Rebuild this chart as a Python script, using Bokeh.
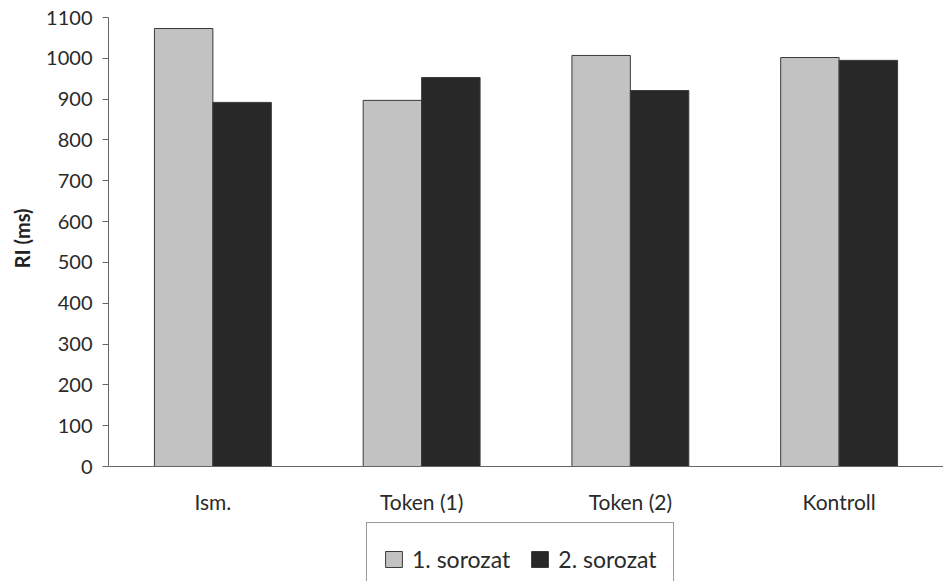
from bokeh.plotting import figure
from bokeh.models import FactorRange, Range1d, FixedTicker, Legend, LegendItem, ColumnDataSource, Title
from bokeh.transform import dodge
from bokeh.embed import file_html
from bokeh.resources import INLINE

# Reaction times (ms) per condition for the two series
categories = ["Ism.", "Token (1)", "Token (2)", "Kontroll"]
series_1 = [1073, 897, 1007, 1002]
series_2 = [892, 953, 921, 995]
series_names = ["1. sorozat", "2. sorozat"]
y_ticks = list(range(0, 1101, 100))

FONT = "Lato"
LIGHT = "#c2c2c2"
DARK = "#282828"
EDGE = "#3a3a3a"

source = ColumnDataSource(data=dict(cat=categories, s1=series_1, s2=series_2))

# The frame runs to the bottom edge so the legend can sit under the baseline;
# the value range below zero is just room for category labels and legend.
p = figure(
    width=943, height=581,
    x_range=FactorRange(*categories, range_padding=0),
    y_range=Range1d(-281.7, 1100),
    output_backend="svg", toolbar_location=None,
    min_border_left=0, min_border_right=0,
    min_border_top=17, min_border_bottom=0,
)
p.outline_line_color = None
p.xgrid.grid_line_color = None
p.ygrid.grid_line_color = None
p.background_fill_color = "white"
p.border_fill_color = "white"

bar_w = 0.28
r1 = p.vbar(x=dodge("cat", -bar_w / 2, range=p.x_range), top="s1", width=bar_w,
            source=source, fill_color=LIGHT, line_color=EDGE, line_width=1)
r2 = p.vbar(x=dodge("cat", bar_w / 2, range=p.x_range), top="s2", width=bar_w,
            source=source, fill_color=DARK, line_color=EDGE, line_width=1)

# y axis
p.yaxis.ticker = FixedTicker(ticks=y_ticks)
p.yaxis.bounds = (0, 1100)
p.yaxis.major_label_text_font = FONT
p.yaxis.major_label_text_font_size = "20px"
p.yaxis.major_label_text_color = "#2a2a2a"
p.yaxis.major_label_standoff = 10
p.yaxis.major_tick_in = 0
p.yaxis.major_tick_out = 6
p.yaxis.minor_tick_line_color = None
p.yaxis.axis_line_color = "#666666"
p.yaxis.major_tick_line_color = "#666666"

# y axis title, placed beside the 0-1100 span rather than the whole frame
p.add_layout(Title(text="RI (ms)", align="right", offset=191, vertical_align="middle",
                   text_font=FONT, text_font_size="20px", text_font_style="bold",
                   text_color="#222222", standoff=17), "left")

# x axis pinned to the zero line
p.xaxis.fixed_location = 0
p.xaxis.major_tick_line_color = None
p.xaxis.minor_tick_line_color = None
p.xaxis.axis_line_color = "#666666"
p.xaxis.major_label_text_font = FONT
p.xaxis.major_label_text_font_size = "21px"
p.xaxis.major_label_text_color = "#2a2a2a"
p.xaxis.major_label_standoff = 16

legend = Legend(
    items=[LegendItem(label=series_names[0], renderers=[r1]),
           LegendItem(label=series_names[1], renderers=[r2])],
    orientation="horizontal",
    location=(258, -15),
    border_line_color="#333333", border_line_width=1,
    background_fill_color="white", background_fill_alpha=1,
    label_text_font=FONT, label_text_font_size="23px", label_text_color="#2a2a2a",
    glyph_width=21, glyph_height=20, label_standoff=8, spacing=19,
    padding=16, label_height=40, margin=0,
)
p.add_layout(legend)

open("out.html", "w").write(file_html(p, INLINE))
